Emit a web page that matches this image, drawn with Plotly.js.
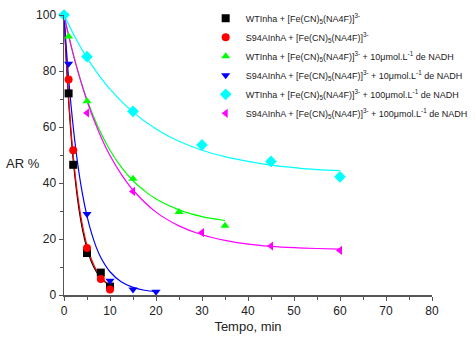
<!DOCTYPE html>
<html><head><meta charset="utf-8">
<script src="https://cdn.plot.ly/plotly-3.0.1.min.js"></script>
<style>html,body{margin:0;padding:0;background:#fff}#c{width:476px;height:339px}</style>
</head><body><div id="c"></div>
<script>
// Measured points
const wtX = [1, 2, 5, 8, 10];
const wtY = [72, 46.5, 15, 8, 3];
const s94X = [1, 2, 5, 8, 10];
const s94Y = [77, 51.7, 16.8, 5.7, 2];
const wt10X = [1, 5, 15, 25, 35];
const wt10Y = [92.3, 69.2, 41.5, 29.6, 24.7];
const s9410X = [0, 1, 5, 10, 15, 20];
const s9410Y = [100, 82.6, 28.9, 5.1, 2.0, 1.2];
const wt100X = [0, 5, 15, 30, 45, 60];
const wt100Y = [100, 85.1, 65.6, 53.6, 47.7, 42.2];
const s94100X = [5, 15, 30, 45, 60];
const s94100Y = [65, 37, 22.3, 17.5, 15.9];

// Fitted curves
const wtCurveX = [0, 0.5, 1, 1.5, 2, 3, 4, 5, 6, 7, 8, 9, 10];
const wtCurveY = [100, 83.3, 69.3, 57.8, 48.2, 33.6, 23.5, 16.5, 11.7, 8.4, 6.1, 4.5, 3.4];
const s94CurveX = [0, 0.5, 1, 1.5, 2, 3, 4, 5, 6, 7, 8, 9, 10];
const s94CurveY = [100, 84.0, 70.5, 59.3, 49.8, 35.2, 25.0, 17.7, 12.6, 9.0, 6.5, 4.7, 3.5];
const wt10CurveX = [0, 1, 2.5, 5, 7.5, 10, 12.5, 15, 17.5, 20, 25, 30, 35];
const wt10CurveY = [100, 92.7, 83.0, 69.8, 59.6, 51.7, 45.6, 40.8, 37.2, 34.3, 30.4, 28.0, 26.6];
const s9410CurveX = [0, 1, 2, 3, 4, 5, 6, 7, 8, 10, 12.5, 15, 17.5, 20];
const s9410CurveY = [100, 77.5, 60.1, 46.6, 36.2, 28.2, 22.0, 17.1, 13.4, 8.3, 4.6, 2.7, 1.7, 1.2];
const wt100CurveX = [0, 2.5, 5, 7.5, 10, 15, 20, 25, 30, 35, 40, 45, 50, 55, 60];
const wt100CurveY = [100, 91.8, 84.7, 78.7, 73.5, 65.3, 59.3, 54.9, 51.7, 49.4, 47.7, 46.4, 45.5, 44.8, 44.4];
const s94100CurveX = [0, 1, 2.5, 5, 7.5, 10, 12.5, 15, 20, 25, 30, 35, 40, 45, 50, 55, 60];
const s94100CurveY = [100, 92.7, 82.9, 69.3, 58.5, 49.8, 43.0, 37.5, 29.6, 24.7, 21.5, 19.5, 18.2, 17.4, 16.9, 16.6, 16.4];

const names = [
  'WTInha + [Fe(CN)<sub>5</sub>(NA4F)]<sup>3-</sup>',
  'S94AInhA + [Fe(CN)<sub>5</sub>(NA4F)]<sup>3-</sup>',
  'WTInha + [Fe(CN)<sub>5</sub>(NA4F)]<sup>3-</sup> + 10μmol.L<sup>-1</sup> de NADH',
  'S94AInhA + [Fe(CN)<sub>5</sub>(NA4F)]<sup>3-</sup> + 10μmol.L<sup>-1</sup> de NADH',
  'WTInha + [Fe(CN)<sub>5</sub>(NA4F)]<sup>3-</sup> + 100μmol.L<sup>-1</sup> de NADH',
  'S94AInhA + [Fe(CN)<sub>5</sub>(NA4F)]<sup>3-</sup> + 100μmol.L<sup>-1</sup> de NADH'
];
const colors = ['#000000', '#ff0000', '#00ff00', '#0000ff', '#00ffff', '#ff00ff'];
const symbols = ['square', 'circle', 'triangle-up', 'triangle-down', 'diamond', 'triangle-left'];
const pts = [[wtX, wtY], [s94X, s94Y], [wt10X, wt10Y], [s9410X, s9410Y], [wt100X, wt100Y], [s94100X, s94100Y]];
const curves = [[wtCurveX, wtCurveY], [s94CurveX, s94CurveY], [wt10CurveX, wt10CurveY], [s9410CurveX, s9410CurveY], [wt100CurveX, wt100CurveY], [s94100CurveX, s94100CurveY]];

const traces = [];
curves.forEach((c, i) => traces.push({
  x: c[0], y: c[1], mode: 'lines', type: 'scatter', showlegend: false, hoverinfo: 'skip',
  line: {color: colors[i], width: 1.2, shape: 'spline'}, cliponaxis: false
}));
pts.forEach((p, i) => traces.push({
  x: p[0], y: p[1], mode: 'markers', type: 'scatter', name: names[i],
  marker: {color: colors[i], symbol: symbols[i], size: symbols[i] === 'diamond' ? 9 : 8, line: {width: 0}},
  cliponaxis: false
}));

const axisCommon = {
  showgrid: false, zeroline: false, showline: true, linecolor: '#555', linewidth: 1.5,
  ticks: 'outside', ticklen: 4, tickwidth: 1, tickcolor: '#555', automargin: false,
  tickfont: {family: 'Liberation Sans, Arial', size: 12, color: '#222'}
};
const layout = {
  width: 476, height: 339,
  margin: {l: 64, r: 44, t: 15, b: 44, autoexpand: false},
  paper_bgcolor: '#fff', plot_bgcolor: '#fff',
  font: {family: 'Liberation Sans, Arial', color: '#222'},
  xaxis: Object.assign({}, axisCommon, {
    range: [0, 80], dtick: 10, tick0: 0, minor: {dtick: 5, ticks: 'outside', ticklen: 3, tickcolor: '#555'},
    title: {text: 'Tempo, min', font: {size: 13, family: 'Liberation Sans, Arial'}, standoff: 5}
  }),
  yaxis: Object.assign({}, axisCommon, {
    range: [0, 100], dtick: 20, tick0: 0, minor: {dtick: 10, ticks: 'outside', ticklen: 3, tickcolor: '#555'}
  }),
  annotations: [{
    text: 'AR %', xref: 'paper', yref: 'paper', x: -0.06, y: 0.47, xanchor: 'right', yanchor: 'middle',
    showarrow: false, font: {size: 13, family: 'Liberation Sans, Arial', color: '#222'}
  }],
  legend: {
    x: 0.385, y: 1.04, xanchor: 'left', yanchor: 'top', bgcolor: 'rgba(0,0,0,0)',
    font: {size: 9, family: 'Liberation Sans, Arial', color: '#222'}, tracegroupgap: 0, itemwidth: 30
  },
  showlegend: true
};
Plotly.newPlot('c', traces, layout, {displayModeBar: false, staticPlot: true});
</script></body></html>
